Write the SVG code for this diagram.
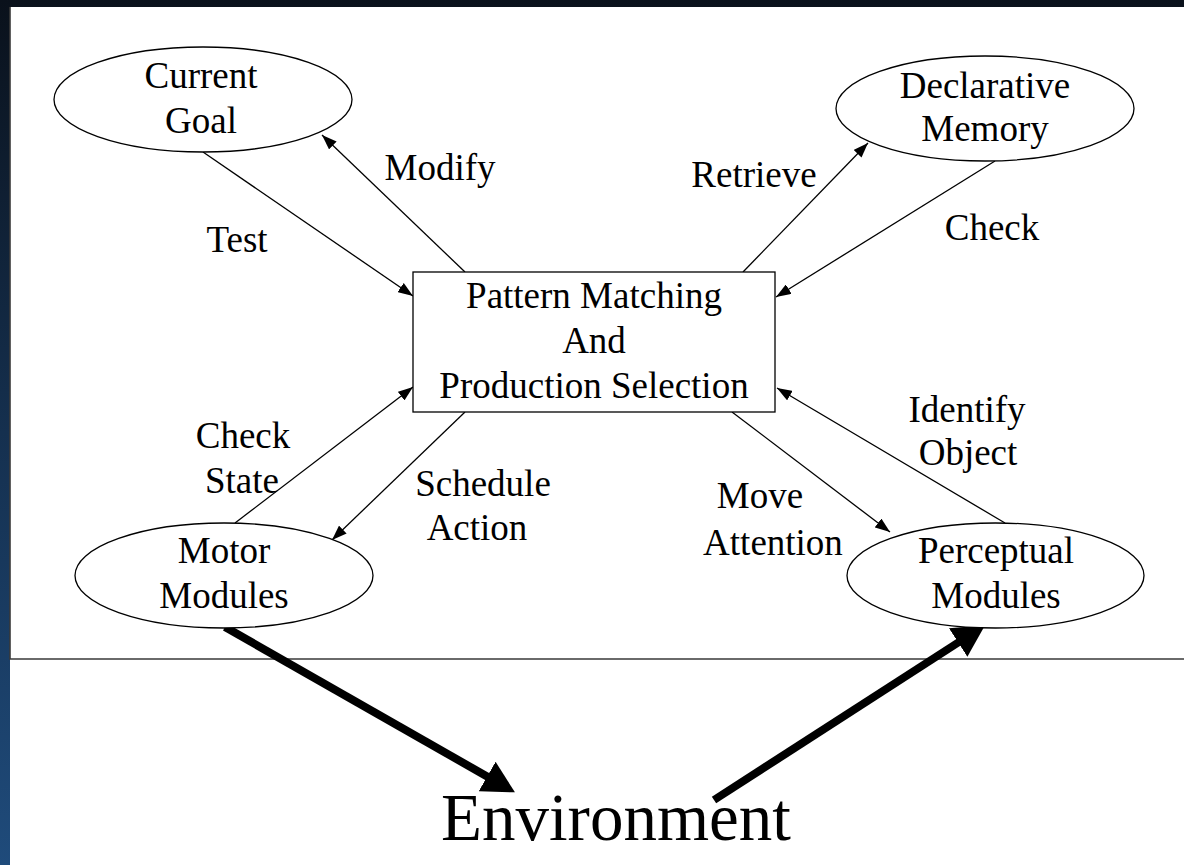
<svg xmlns="http://www.w3.org/2000/svg" width="1184" height="865" viewBox="0 0 1184 865">
<defs>
<linearGradient id="bg" x1="0" y1="0" x2="0" y2="1">
<stop offset="0" stop-color="#0a111b"/>
<stop offset="0.5" stop-color="#15304f"/>
<stop offset="1" stop-color="#1f4b7b"/>
</linearGradient>
<marker id="thin" viewBox="0 0 15 11" refX="15" refY="5.5" markerWidth="15" markerHeight="11" markerUnits="userSpaceOnUse" orient="auto">
<path d="M0,0 L15,5.5 L0,11 z" fill="#000"/>
</marker>
<marker id="thick" viewBox="0 0 32 34" refX="1" refY="17" markerWidth="32" markerHeight="34" markerUnits="userSpaceOnUse" orient="auto">
<path d="M0,0 L32,17 L0,34 z" fill="#000"/>
</marker>
</defs>
<style>
text{font-family:"Liberation Serif","Times New Roman",serif;fill:#000;text-anchor:middle}
.t{font-size:37px}
.big{font-size:67px}
.node{fill:#fff;stroke:#000;stroke-width:1.3}
.c{stroke:#000;stroke-width:1.3;fill:none;marker-end:url(#thin)}
.k{stroke:#000;stroke-width:8;fill:none;marker-end:url(#thick)}
</style>
<rect x="0" y="0" width="1184" height="865" fill="url(#bg)"/>
<rect x="10" y="7" width="1174" height="858" fill="#fff"/>
<path d="M10,7 V659 H1184" fill="none" stroke="#3a3a3a" stroke-width="1.6"/>

<g id="connectors">
<line class="c" x1="203" y1="152" x2="413" y2="296"/>
<line class="c" x1="465" y1="272" x2="322" y2="135"/>
<line class="c" x1="743" y1="272" x2="868" y2="143"/>
<line class="c" x1="995" y1="161" x2="776" y2="297"/>
<line class="c" x1="235" y1="523" x2="413" y2="387"/>
<line class="c" x1="465" y1="412" x2="332" y2="540"/>
<line class="c" x1="732" y1="412" x2="890" y2="532"/>
<line class="c" x1="1005" y1="523" x2="777" y2="388"/>
<line class="k" x1="225" y1="627" x2="488" y2="777"/>
<line class="k" x1="714" y1="800" x2="959" y2="642"/>
<text class="t" x="237" y="252">Test</text>
<text class="t" x="440" y="180">Modify</text>
<text class="t" x="754" y="187">Retrieve</text>
<text class="t" x="992" y="240">Check</text>
<text class="t" x="243" y="448">Check</text>
<text class="t" x="242" y="493">State</text>
<text class="t" x="483" y="496">Schedule</text>
<text class="t" x="477" y="540">Action</text>
<text class="t" x="760" y="508">Move</text>
<text class="t" x="773" y="555">Attention</text>
<text class="t" x="967" y="422">Identify</text>
<text class="t" x="968" y="465">Object</text>
</g>

<g id="current-goal">
<ellipse class="node" cx="203" cy="99.5" rx="149" ry="52.5"/>
<text class="t" x="201" y="88">Current</text>
<text class="t" x="201" y="133">Goal</text>
</g>
<g id="declarative-memory">
<ellipse class="node" cx="985" cy="108.5" rx="149" ry="52.5"/>
<text class="t" x="985" y="98">Declarative</text>
<text class="t" x="985" y="141">Memory</text>
</g>
<g id="pattern-matching">
<rect class="node" x="413" y="272" width="362" height="140"/>
<text class="t" x="594" y="308">Pattern Matching</text>
<text class="t" x="594" y="353">And</text>
<text class="t" x="594" y="398">Production Selection</text>
</g>
<g id="motor-modules">
<ellipse class="node" cx="224" cy="575.5" rx="149" ry="52.5"/>
<text class="t" x="224" y="563">Motor</text>
<text class="t" x="224" y="608">Modules</text>
</g>
<g id="perceptual-modules">
<ellipse class="node" cx="995.5" cy="575.5" rx="148.5" ry="52.5"/>
<text class="t" x="996" y="563">Perceptual</text>
<text class="t" x="996" y="608">Modules</text>
</g>
<g id="environment">
<text class="big" x="616" y="840">Environment</text>
</g>
</svg>
